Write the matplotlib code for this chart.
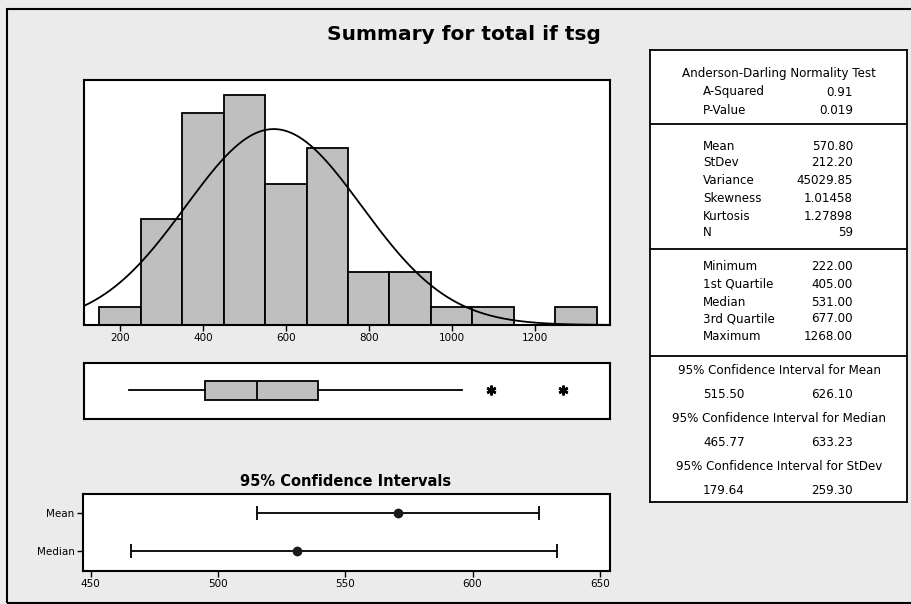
import numpy as np
import matplotlib
matplotlib.use("Agg")
import matplotlib.pyplot as plt
from matplotlib.patches import Rectangle

# ---------------- data ----------------
bin_centers = [200, 300, 400, 500, 600, 700, 800, 900, 1000, 1100, 1200, 1300]
bin_counts = [1, 6, 12, 13, 8, 10, 3, 3, 1, 1, 0, 1]
bin_width = 100

mean_val = 570.80
stdev_val = 212.20
n_val = 59

q1_val = 405.0
median_val = 531.0
q3_val = 677.0
min_val = 222.0
whisker_hi = 1025.0
outliers = [1095.0, 1268.0]

ci_labels = ["Mean", "Median"]
ci_center = [570.80, 531.00]
ci_low = [515.50, 465.77]
ci_high = [626.10, 633.23]

hist_ticks = [200, 400, 600, 800, 1000, 1200]
ci_ticks = [450, 500, 550, 600, 650]

ad_labels = ["A-Squared", "P-Value"]
ad_values = ["0.91", "0.019"]
mom_labels = ["Mean", "StDev", "Variance", "Skewness", "Kurtosis", "N"]
mom_values = ["570.80", "212.20", "45029.85", "1.01458", "1.27898", "59"]
q_labels = ["Minimum", "1st Quartile", "Median", "3rd Quartile", "Maximum"]
q_values = ["222.00", "405.00", "531.00", "677.00", "1268.00"]
ci_headers = ["95% Confidence Interval for Mean",
              "95% Confidence Interval for Median",
              "95% Confidence Interval for StDev"]
ci_table_low = ["515.50", "465.77", "179.64"]
ci_table_high = ["626.10", "633.23", "259.30"]

# ---------------- figure ----------------
W, H = 912, 604
fig = plt.figure(figsize=(W / 100, H / 100), dpi=100)
fig.patch.set_facecolor("#ebebeb")
plt.rcParams["font.family"] = ["DejaVu Sans"]

def fa(left, top, right, bottom):
    return [left / W, 1 - bottom / H, (right - left) / W, (bottom - top) / H]

# outer frame
fig.patches.append(Rectangle((7 / W, 1.5 / H), (W + 20) / W, 594 / H,
                             transform=fig.transFigure, fill=False,
                             lw=1.5, ec="black", clip_on=False))

fig.text(463.5 / W, 1 - 35 / H, "Summary for total if tsg", ha="center",
         va="center", fontsize=14.5, fontweight="bold")

bar_color = "#bfbfbf"

def style_axes(ax):
    for s in ax.spines.values():
        s.set_linewidth(1.5)
        s.set_color("black")
    ax.set_facecolor("white")
    ax.tick_params(direction="out", length=4, width=1, labelsize=7.5, pad=2)

# ---------------- histogram ----------------
axh = fig.add_axes(fa(84, 80, 610, 325))
style_axes(axh)
lefts = [c - bin_width / 2 for c in bin_centers]
axh.bar(lefts, bin_counts, width=bin_width, align="edge", color=bar_color,
        edgecolor="black", linewidth=1.3, zorder=2)
xs = np.linspace(113, 1382, 500)
ys = n_val * bin_width / (stdev_val * np.sqrt(2 * np.pi)) * \
    np.exp(-0.5 * ((xs - mean_val) / stdev_val) ** 2)
axh.plot(xs, ys, color="black", lw=1.3, zorder=3)
axh.set_xlim(113, 1382)
axh.set_ylim(0, 13.87)
axh.set_xticks(hist_ticks)
axh.set_yticks([])

# ---------------- boxplot ----------------
axb = fig.add_axes(fa(84, 363, 610, 419))
style_axes(axb)
stats = [dict(med=median_val, q1=q1_val, q3=q3_val, whislo=min_val,
              whishi=whisker_hi, fliers=outliers)]
axb.bxp(stats, positions=[0], widths=0.34, orientation="horizontal",
        patch_artist=True, showcaps=False,
        boxprops=dict(facecolor=bar_color, edgecolor="black", linewidth=1.3),
        medianprops=dict(color="black", linewidth=1.3),
        whiskerprops=dict(color="black", linewidth=1.3),
        flierprops=dict(marker=(6, 2, 0), markersize=7, markeredgewidth=1.8,
                        markeredgecolor="black", markerfacecolor="black"))
axb.set_xlim(113, 1382)
axb.set_ylim(-0.52, 0.5)
axb.set_xticks([])
axb.set_yticks([])

# ---------------- confidence intervals ----------------
axc = fig.add_axes(fa(83, 494, 610, 571))
style_axes(axc)
ypos = [1, 0]
xerr = [[c - l for c, l in zip(ci_center, ci_low)],
        [h - c for c, h in zip(ci_center, ci_high)]]
axc.errorbar(ci_center, ypos, xerr=xerr, fmt="o", color="#1a1a1a",
             ecolor="black", elinewidth=1.3, capsize=5, capthick=1.3,
             markersize=6)
axc.set_xlim(447, 654)
axc.set_ylim(-0.53, 1.51)
axc.set_xticks(ci_ticks)
axc.set_yticks(ypos)
axc.set_yticklabels(ci_labels, fontsize=7.5)
fig.text(346 / W, 1 - 481 / H, "95% Confidence Intervals", ha="center",
         va="center", fontsize=10.5, fontweight="bold")

# ---------------- summary table ----------------
axt = fig.add_axes(fa(650, 50, 907, 502))
axt.set_xlim(650, 907)
axt.set_ylim(502, 50)
axt.set_xticks([])
axt.set_yticks([])
axt.set_facecolor("white")
for s in axt.spines.values():
    s.set_linewidth(1.3)
for yl in [124, 249, 356]:
    axt.axhline(yl, color="black", lw=1.3)

fs = 8.6
xl, xr, xc = 703, 853, 779
axt.text(xc, 73, "Anderson-Darling Normality Test", ha="center", va="center", fontsize=fs)
for lab, val, y in zip(ad_labels, ad_values, [92, 110]):
    axt.text(xl, y, lab, ha="left", va="center", fontsize=fs)
    axt.text(xr, y, val, ha="right", va="center", fontsize=fs)
for lab, val, y in zip(mom_labels, mom_values, [146, 163, 181, 199, 216, 233]):
    axt.text(xl, y, lab, ha="left", va="center", fontsize=fs)
    axt.text(xr, y, val, ha="right", va="center", fontsize=fs)
for lab, val, y in zip(q_labels, q_values, [267, 284, 302, 319, 336]):
    axt.text(xl, y, lab, ha="left", va="center", fontsize=fs)
    axt.text(xr, y, val, ha="right", va="center", fontsize=fs)
for hdr, lo, hi, y in zip(ci_headers, ci_table_low, ci_table_high, [370, 418, 467]):
    axt.text(xc, y, hdr, ha="center", va="center", fontsize=fs)
    axt.text(xl, y + 24, lo, ha="left", va="center", fontsize=fs)
    axt.text(xr, y + 24, hi, ha="right", va="center", fontsize=fs)

fig.savefig("out.png", dpi=100, facecolor=fig.get_facecolor())
